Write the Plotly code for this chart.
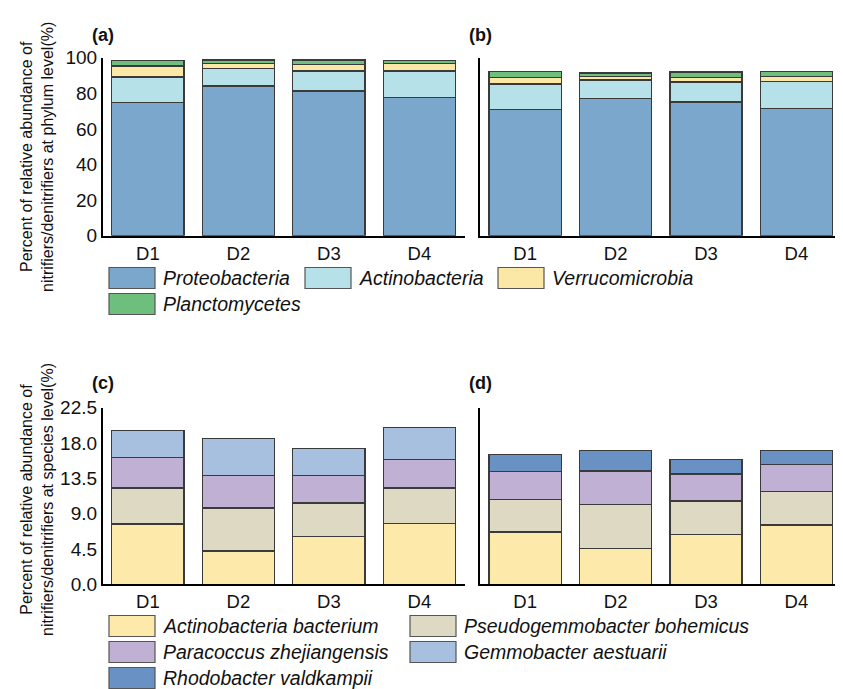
import plotly.graph_objects as go

# page body has an 8px default margin; figure is sized so it fits the 843x689 window
PAGE_W, PAGE_H = 843, 689
OFF = 8
W, H = PAGE_W - OFF, PAGE_H - OFF

samples = ["D1", "D2", "D3", "D4"]

# ---- phylum level (panels a, b) ----
phylum_names = ["Proteobacteria", "Actinobacteria", "Verrucomicrobia", "Planctomycetes"]
phylum_colors = ["#7BA7CC", "#B7E1E8", "#FCE8A6", "#6EBE7D"]
proteo_a = [74.9, 84.2, 81.3, 77.5]
actino_a = [14.3, 9.6, 11.3, 15.1]
verru_a = [6.1, 3.0, 3.6, 4.0]
plancto_a = [3.0, 1.9, 2.5, 1.7]
proteo_b = [70.8, 77.2, 75.1, 71.3]
actino_b = [14.5, 10.3, 11.3, 15.3]
verru_b = [3.6, 1.9, 2.5, 3.0]
plancto_b = [3.4, 2.1, 3.0, 2.5]

# ---- species level (panels c, d) ----
species_names = ["Actinobacteria bacterium", "Pseudogemmobacter bohemicus",
                 "Paracoccus zhejiangensis", "Gemmobacter aestuarii",
                 "Rhodobacter valdkampii"]
species_colors = ["#FDEAAA", "#DDD9C3", "#C0B0D4", "#A7C0DF", "#6A91C4"]
actbac_c = [7.70, 4.26, 6.05, 7.75]
pseudo_c = [4.56, 5.45, 4.30, 4.52]
para_c = [3.88, 4.14, 3.50, 3.62]
gemmo_c = [3.41, 4.73, 3.45, 4.05]
actbac_d = [6.65, 4.52, 6.31, 7.54]
pseudo_d = [4.17, 5.66, 4.30, 4.26]
para_d = [3.54, 4.26, 3.41, 3.41]
rhodo_d = [2.17, 2.56, 1.87, 1.83]

phylum_ticks = [0, 20, 40, 60, 80, 100]
species_ticks = [0, 4.5, 9, 13.5, 18, 22.5]

FONT = "Liberation Sans, Arial, sans-serif"
EDGE = "#3a3a3a"


def px(x):
    return (x - OFF) / W


def py(y):
    return 1 - (y - OFF) / H


fig = go.Figure()


def add_stack(series, names, colors, xa, ya):
    for vals, name, col in zip(series, names, colors):
        fig.add_trace(go.Bar(
            x=samples, y=vals, name=name, marker_color=col,
            marker_line=dict(color=EDGE, width=1.4), width=0.8,
            xaxis=xa, yaxis=ya, showlegend=False,
        ))


add_stack([proteo_a, actino_a, verru_a, plancto_a], phylum_names, phylum_colors, "x", "y")
add_stack([proteo_b, actino_b, verru_b, plancto_b], phylum_names, phylum_colors, "x2", "y2")
add_stack([actbac_c, pseudo_c, para_c, gemmo_c],
          [species_names[i] for i in (0, 1, 2, 3)],
          [species_colors[i] for i in (0, 1, 2, 3)], "x3", "y3")
add_stack([actbac_d, pseudo_d, para_d, rhodo_d],
          [species_names[i] for i in (0, 1, 2, 4)],
          [species_colors[i] for i in (0, 1, 2, 4)], "x4", "y4")

xl = [px(102.7), px(464.7)]
xr = [px(480.0), px(841.6)]
yt = [py(235.7), py(57.7)]
yb = [py(584.3), py(407.5)]

xcommon = dict(showline=True, linecolor="black", linewidth=1.6, showgrid=False,
               zeroline=False, ticks="", range=[-0.5, 3.5], automargin=False,
               tickfont=dict(family=FONT, size=18.5, color="#111"))
ycommon = dict(showline=True, linecolor="black", linewidth=1.6, showgrid=False,
               zeroline=False, ticks="", automargin=False,
               tickfont=dict(family=FONT, size=19, color="#111"))

fig.update_layout(
    xaxis=dict(domain=xl, anchor="y", **xcommon),
    xaxis2=dict(domain=xr, anchor="y2", **xcommon),
    xaxis3=dict(domain=xl, anchor="y3", **xcommon),
    xaxis4=dict(domain=xr, anchor="y4", **xcommon),
    yaxis=dict(domain=yt, anchor="x", range=[0, 100], tickvals=phylum_ticks, **ycommon),
    yaxis2=dict(domain=yt, anchor="x2", range=[0, 100], showticklabels=False, **ycommon),
    yaxis3=dict(domain=yb, anchor="x3", range=[0, 22.5], tickvals=species_ticks,
                tickformat=".1f", **ycommon),
    yaxis4=dict(domain=yb, anchor="x4", range=[0, 22.5], showticklabels=False, **ycommon),
    barmode="stack",
    width=W, height=H,
    margin=dict(l=0, r=0, t=0, b=0, autoexpand=False),
    paper_bgcolor="white", plot_bgcolor="white",
    font=dict(family=FONT, color="#111"),
)

ann = []
shapes = []

# panel labels
for lab, x, y in [("(a)", 90, 35), ("(b)", 467, 35), ("(c)", 90, 383), ("(d)", 467, 383)]:
    ann.append(dict(text="<b>%s</b>" % lab, x=px(x), y=py(y), xref="paper", yref="paper",
                    xanchor="left", yanchor="middle", showarrow=False,
                    font=dict(family=FONT, size=18, color="#111")))

# y-axis titles
for txt, yc in [("Percent of relative abundance of<br>nitrifiers/denitrifiers at phylum level(%)", 157),
                ("Percent of relative abundance of<br>nitrifiers/denitrifiers at species level(%)", 500)]:
    ann.append(dict(text=txt, x=px(37), y=py(yc), xref="paper", yref="paper",
                    xanchor="center", yanchor="middle", textangle=-90, showarrow=False,
                    font=dict(family=FONT, size=16, color="#111")))


def legend_item(name, color, x0, yc, h=21, w=46):
    shapes.append(dict(type="rect", xref="paper", yref="paper",
                       x0=px(x0), x1=px(x0 + w), y0=py(yc + h / 2), y1=py(yc - h / 2),
                       fillcolor=color, line=dict(color="#555", width=1.2)))
    ann.append(dict(text=name, x=px(x0 + w + 6), y=py(yc), xref="paper", yref="paper",
                    xanchor="left", yanchor="middle", showarrow=False,
                    font=dict(family=FONT, size=19.5, color="#111", style="italic")))


# phylum legend
top_pos = [(109, 278), (305, 278), (498, 278), (109, 304)]
for name, col, (x0, yc) in zip(phylum_names, phylum_colors, top_pos):
    legend_item(name, col, x0, yc)

# species legend
bot_pos = [(109, 626), (410, 626), (109, 652), (410, 652), (109, 678)]
for name, col, (x0, yc) in zip(species_names, species_colors, bot_pos):
    legend_item(name, col, x0, yc)

fig.update_layout(annotations=ann, shapes=shapes)

fig.write_html("out.html")
